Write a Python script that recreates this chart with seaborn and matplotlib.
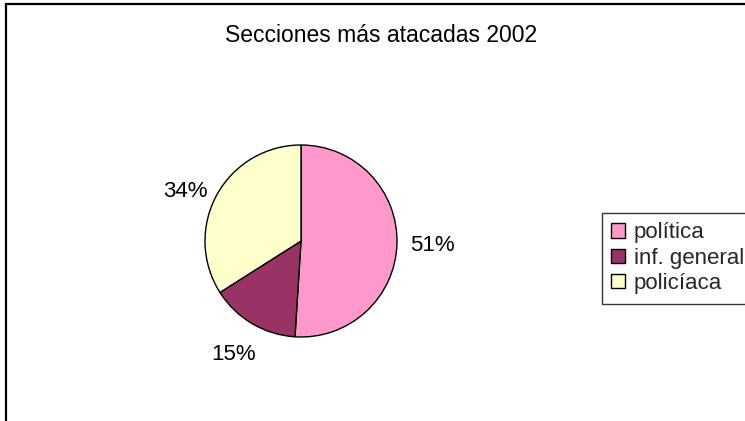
import matplotlib
matplotlib.use("Agg")
import matplotlib.pyplot as plt
from matplotlib.patches import Rectangle
import seaborn as sns

# Data
categories = ["política", "inf. general", "policíaca"]
values = [51, 15, 34]
colors = ["#FF99CC", "#993366", "#FFFFCC"]
title = "Secciones más atacadas 2002"

sns.set_theme(style="white")
plt.rcParams["font.family"] = ["Liberation Sans", "DejaVu Sans"]

W, H = 745, 421
fig = plt.figure(figsize=(W / 100, H / 100), dpi=100)
fig.patch.set_facecolor("white")

# outer chart frame (cut by right/bottom image edges)
fig.add_artist(Rectangle((6 / W, -0.2), 1.5, 1.2 - 4 / H,
                         transform=fig.transFigure, fill=False,
                         edgecolor="black", linewidth=1.6))

cx, cy, r = 301, 241, 96
ax = fig.add_axes([(cx - r) / W, (H - cy - r) / H, 2 * r / W, 2 * r / H])
wedges, texts, autotexts = ax.pie(
    values, colors=colors, startangle=90, counterclock=False,
    autopct="%1.0f%%", pctdistance=1.37,
    wedgeprops=dict(edgecolor="black", linewidth=1.0),
    textprops=dict(fontsize=16, color="black"),
)
# nudge the 34% label down like the original's placement
x3, y3 = autotexts[2].get_position()
autotexts[2].set_position((x3, y3 - 0.14))
ax.set_xlim(-1, 1)
ax.set_ylim(-1, 1)
ax.set_aspect("auto")
ax.axis("off")

fig.text(381 / W, 1 - 35 / H, title, ha="center", va="center",
         fontsize=16.5, color="black")

leg = fig.legend(wedges, categories, loc="upper left",
                 bbox_to_anchor=(602 / W, 1 - 213 / H),
                 frameon=True, fancybox=False, fontsize=16,
                 handlelength=0.6, handleheight=0.6, handletextpad=0.4,
                 borderpad=0.42, labelspacing=0.2, borderaxespad=0)
leg.get_frame().set_edgecolor("black")
leg.get_frame().set_linewidth(1.0)

fig.savefig("out.png", dpi=100, facecolor="white")
